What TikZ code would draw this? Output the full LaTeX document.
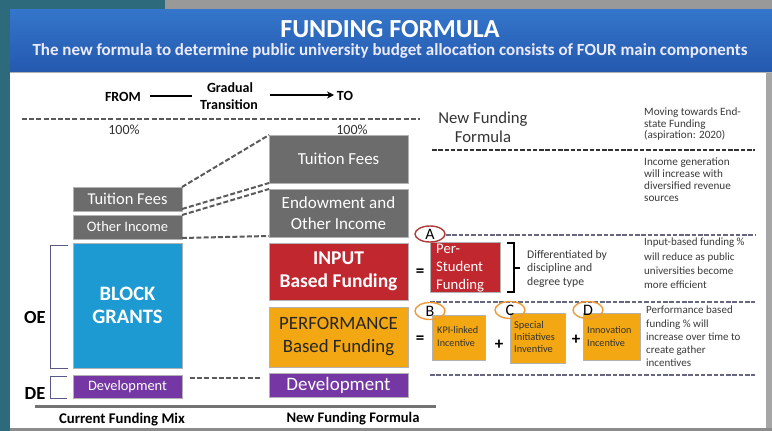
\documentclass[tikz,border=0pt]{standalone}
\usepackage{fontspec}
\setmainfont{Carlito}
\usetikzlibrary{arrows.meta,shadows,calc,shapes.geometric}
\definecolor{hdrtop}{HTML}{3476CB}
\definecolor{hdrbot}{HTML}{2459AE}
\definecolor{teal}{HTML}{2C6A7C}
\definecolor{boxgray}{HTML}{6C6C6C}
\definecolor{boxblue}{HTML}{1E9AD3}
\definecolor{boxred}{HTML}{C0272F}
\definecolor{boxyel}{HTML}{F3A712}
\definecolor{boxpur}{HTML}{7537A3}
\definecolor{notecol}{HTML}{3A3A3A}
\definecolor{dashcol}{HTML}{5A5A5A}
\definecolor{ringA}{HTML}{B23A3A}
\definecolor{ringB}{HTML}{EE9A3A}
\begin{document}
\begin{tikzpicture}[x=1pt,y=-1pt,
  blk/.style={draw=white!70!black, line width=0.6pt, inner sep=0pt, outer sep=0pt, align=center,
     drop shadow={opacity=0.35, shadow xshift=1.2pt, shadow yshift=-1.2pt}},
  graybox/.style={blk, fill=boxgray, text=white},
  bluebox/.style={blk, fill=boxblue, text=white},
  redbox/.style={blk, fill=boxred, text=white},
  yelbox/.style={blk, fill=boxyel, text=black!85},
  purbox/.style={blk, fill=boxpur, text=white},
  dashln/.style={dashcol, line width=2pt, dash pattern=on 5pt off 2.2pt},
  dashsep/.style={black!50!blue!20!gray, line width=1.8pt, dash pattern=on 4.5pt off 1.8pt},
  note/.style={anchor=north west, align=left, inner sep=0pt, text=notecol, font=\fontsize{11}{12}\selectfont},
  ring/.style={ellipse, minimum width=30pt, minimum height=16pt, inner sep=0pt, line width=1.4pt, font=\fontsize{16}{16}\selectfont},
  ops/.style={font=\bfseries\fontsize{17}{17}\selectfont, inner sep=0pt},
  hdlab/.style={font=\bfseries\fontsize{14}{14}\selectfont},
]
\useasboundingbox (0,0) rectangle (772,431);
% background
\fill[teal] (0,0) rectangle (772,431);
\fill[black!40] (165,0) rectangle (772,10);
\fill[black!35] (766,10) rectangle (772,431);
\fill[black!45] (10,428) rectangle (772,431);
\fill[white] (10,9) rectangle (766,428);
\shade[top color=hdrtop, bottom color=hdrbot] (10,9) rectangle (772,72);
\draw[black!30, line width=0.8pt] (10,72) -- (772,72);
% header
\node[text=white, font=\bfseries\fontsize{26}{28}\selectfont] (title) at (390,29) {FUNDING FORMULA};
\node[text=white!92!blue, font=\bfseries\fontsize{17}{18}\selectfont] (sub) at (390,51) {The new formula to determine public university budget allocation consists of FOUR main components};
% transition
\node[hdlab] (from) at (123,97) {FROM};
\node[hdlab] (grad) at (230,88) {Gradual};
\node[hdlab] (trans) at (229,105) {Transition};
\node[hdlab] (to) at (345,96) {TO};
\coordinate (l1a) at (150,96); \coordinate (l1b) at (192,96);
\coordinate (l2a) at (270,95); \coordinate (l2b) at (334,95);
\draw[line width=2.4pt] (l1a) -- (l1b);
\draw[line width=2.2pt, -{Stealth[length=7pt,width=7pt]}] (l2a) -- (l2b);
\coordinate (td1) at (22,119); \coordinate (td2) at (420,119);
\draw[dashln] (td1) -- (td2);
\node[font=\fontsize{14}{14}\selectfont, text=black!80] (p1) at (124,130) {100\%};
\node[font=\fontsize{14}{14}\selectfont, text=black!80] (p2) at (352,130) {100\%};
% left column
\node[graybox, minimum width=109pt, minimum height=24pt, font=\fontsize{16.5}{17}\selectfont] (ltf) at (127.5,199) {Tuition Fees};
\node[graybox, minimum width=109pt, minimum height=24pt, font=\fontsize{14.5}{15}\selectfont] (loi) at (127.5,227) {Other Income};
\node[bluebox, minimum width=109pt, minimum height=125pt, font=\bfseries\fontsize{20.5}{23}\selectfont] (lbg) at (127.5,305.5) {BLOCK\\GRANTS};
\node[purbox, minimum width=109pt, minimum height=23pt, font=\fontsize{14.4}{15}\selectfont] (ldev) at (127.5,386.5) {Development};
% right column
\node[graybox, minimum width=139pt, minimum height=48pt, font=\fontsize{16.8}{17}\selectfont] (rtf) at (338.5,159) {Tuition Fees};
\node[graybox, minimum width=139pt, minimum height=48pt, font=\fontsize{17}{21}\selectfont] (rend) at (338.5,213) {Endowment and\\Other Income};
\node[redbox, minimum width=139pt, minimum height=57pt, font=\bfseries\fontsize{19.5}{23}\selectfont] (rin) at (338.5,271.5) {INPUT\\Based Funding};
\node[yelbox, minimum width=139pt, minimum height=60pt, font=\fontsize{18.8}{23}\selectfont] (rperf) at (338.5,337) {PERFORMANCE\\Based Funding};
\node[purbox, minimum width=139pt, minimum height=24pt, font=\fontsize{19}{19}\selectfont] (rdev) at (338.5,385) {Development};
% dashed links
\draw[dashln] (ltf.north east) -- (rtf.north west);
\draw[dashln] ($(ltf.south east)+(0,-2)$) -- (rtf.south west);
\draw[dashln] (loi.north east) -- (rend.north west);
\draw[dashln] ($(loi.south east)+(0,-1)$) -- ($(rend.south west)+(0,-1)$);
\coordinate (dd1) at (190,378); \coordinate (dd2) at (262,378);
\draw[dashln, line width=1.8pt] (dd1) -- (dd2);
% brackets
\draw[black!40!blue!30!gray, line width=0.9pt] (68,245) -- (50,245) -- (50,368) -- (68,368);
\draw[black!40!blue!30!gray, line width=0.9pt] (67,376) -- (50,376) -- (50,398) -- (67,398);
\node[font=\bfseries\fontsize{18.5}{18}\selectfont] (oe) at (35,317) {OE};
\node[font=\bfseries\fontsize{18.5}{18}\selectfont] (de) at (35,393) {DE};
% bottom
\coordinate (b1) at (35,406); \coordinate (b2) at (436,406);
\draw[black!55, line width=3pt] (b1) -- (b2);
\node[font=\bfseries\fontsize{14.8}{15}\selectfont] (cfm) at (122,420) {Current Funding Mix};
\node[font=\bfseries\fontsize{14.6}{15}\selectfont] (nff) at (353,419) {New Funding Formula};
% right panel
\node[font=\fontsize{16.7}{19.5}\selectfont, text=black!80, align=center] (nfft) at (483,127.5) {New Funding\\Formula};
\node[note, font=\fontsize{11.2}{11.5}\selectfont] (n1) at (644,108) {Moving towards End-\\state Funding\\(aspiration: 2020)};
\node[note, font=\fontsize{11.2}{12}\selectfont] (n2) at (644,158) {Income generation\\will increase with\\diversified revenue\\sources};
\node[note, font=\fontsize{11}{14.3}\selectfont] (n3) at (644,238) {Input-based funding \%\\will reduce as public\\universities become\\more efficient};
\node[note, font=\fontsize{11}{13.2}\selectfont] (n4) at (646,306) {Performance based\\funding \% will\\increase over time to\\create gather\\incentives};
\node[note, font=\fontsize{11.7}{13.5}\selectfont] (n5) at (527,250) {Differentiated by\\discipline and\\degree type};
\coordinate (s1a) at (432,150); \coordinate (s1b) at (755,150);
\coordinate (s2a) at (446,235); \coordinate (s2b) at (755,235);
\coordinate (s3a) at (430,302); \coordinate (s3b) at (755,302);
\coordinate (s4a) at (430,375); \coordinate (s4b) at (755,375);
\draw[dashsep, black!80] (s1a) -- (s1b);
\draw[dashsep] (s2a) -- (s2b);
\draw[dashsep] (s3a) -- (s3b);
\draw[dashsep] (s4a) -- (s4b);
% input formula
\node[redbox, minimum width=70pt, minimum height=50pt] (ps) at (465,267) {};
\node[anchor=west, align=left, text=white, inner sep=0pt, font=\fontsize{14.7}{18}\selectfont] (pst) at (436,268.5) {Per-\\Student\\Funding};
\node[ops] (eq1) at (420,273) {=};
\draw[line width=1.5pt] (507,243) -- (514,243) -- (514,292) -- (507,292);
\draw[line width=1.5pt] (514,268) -- (520,268);
\node[ring, draw=ringA] (ra) at (430,234) {A};
% performance formula
\node[yelbox, minimum width=53pt, minimum height=45pt] (kpi) at (458.5,337.5) {};
\node[anchor=west, align=left, inner sep=0pt, text=black!80, font=\fontsize{10.2}{13}\selectfont] (kpit) at (437,336.5) {KPI-linked\\Incentive};
\node[yelbox, minimum width=55pt, minimum height=50pt] (spi) at (537.5,338) {};
\node[anchor=west, align=left, inner sep=0pt, text=black!80, font=\fontsize{10.4}{12}\selectfont] (spit) at (514,337) {Special\\Initiatives\\Inventive};
\node[yelbox, minimum width=57pt, minimum height=47pt] (inn) at (611.5,336.5) {};
\node[anchor=west, align=left, inner sep=0pt, text=black!80, font=\fontsize{10.2}{13}\selectfont] (innt) at (587,336.5) {Innovation\\Incentive};
\node[ops] (eq2) at (420,340) {=};
\node[ops] (pl1) at (499,345) {+};
\node[ops] (pl2) at (576,340) {+};
\node[ring, draw=ringB, minimum height=17pt] (rb) at (430,311) {B};
\node[ring, draw=ringB, minimum height=17pt] (rc) at (510,310) {C};
\node[ring, draw=ringB, minimum height=17pt] (rd) at (588,310) {D};
\end{tikzpicture}
\end{document}
